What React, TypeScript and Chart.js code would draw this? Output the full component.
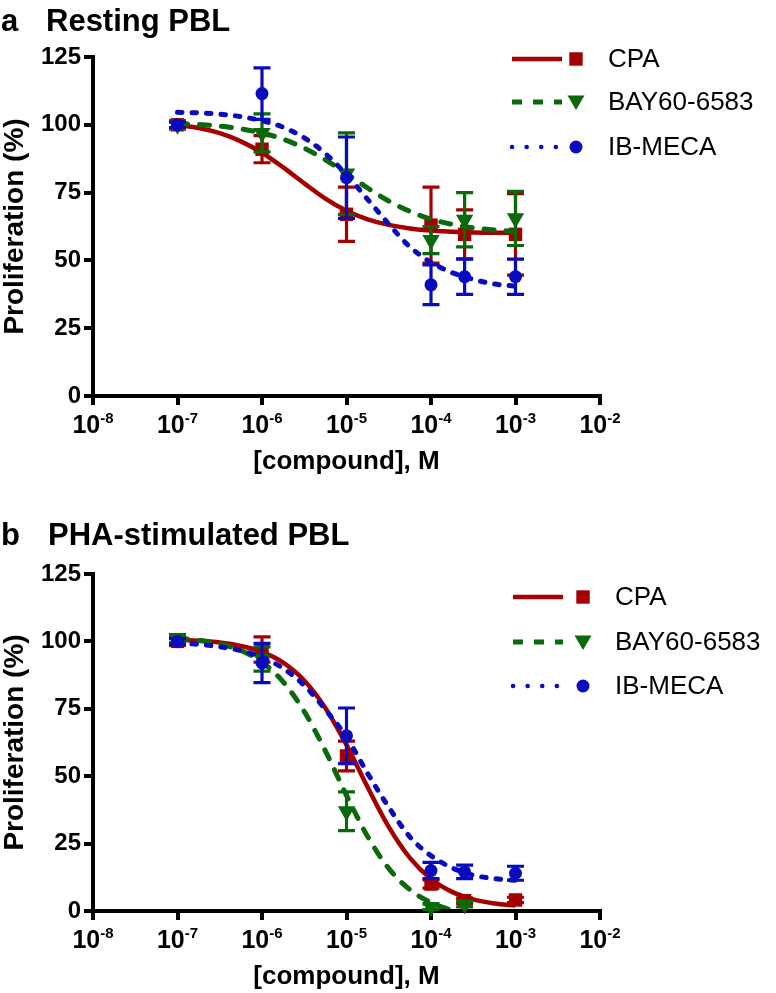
import React, { useEffect, useRef } from 'react';
import { Chart, registerables } from 'chart.js';
Chart.register(...registerables);

const FONT = '"Liberation Sans", Arial, Helvetica, sans-serif';

// ---- axes / labels ----
const xTickExponents = [-8, -7, -6, -5, -4, -3, -2];
const yTickValues = [0, 25, 50, 75, 100, 125];
const xAxisTitle = '[compound], M';
const yAxisTitle = 'Proliferation (%)';
const seriesNames = ['CPA', 'BAY60-6583', 'IB-MECA'];

// ---- concentrations ----
const doses = [1e-7, 1e-6, 1e-5, 1e-4, 2.5e-4, 1e-3];
const fitDoses = [
  1e-7, 1.78e-7, 3.16e-7, 5.62e-7, 1e-6, 1.78e-6, 3.16e-6, 5.62e-6, 1e-5,
  1.78e-5, 3.16e-5, 5.62e-5, 1e-4, 1.78e-4, 3.16e-4, 5.62e-4, 1e-3,
];

// ---- panel a: Resting PBL ----
const restingCPA = [100, 91, 67, 63, 59.6, 59.6];
const restingCPAErr = [1.5, 5, 10, 14, 9, 15];
const restingBAY = [100, 97, 82, 57.5, 65, 65.5];
const restingBAYErr = [1.5, 7, 15, 5, 10, 10];
const restingIB = [100, 111.5, 80.5, 41, 44, 44];
const restingIBErr = [1, 9.5, 15, 7.3, 6.5, 6.5];
const restingCPAFit = [99.9, 98.8, 96.9, 93.9, 89.7, 84.3, 78.4, 72.8, 68.3, 65.1, 63.1, 61.8, 61.0, 60.6, 60.3, 60.2, 60.1];
const restingBAYFit = [100.5, 100.1, 99.5, 98.5, 97.0, 94.7, 91.4, 87.1, 82.0, 76.7, 71.9, 68.1, 65.2, 63.3, 62.0, 61.2, 60.7];
const restingIBFit = [104.6, 104.4, 103.9, 103.0, 101.5, 99.1, 95.2, 89.4, 81.6, 72.5, 63.4, 55.0, 49.3, 45.5, 43.0, 41.3, 40.5];

// ---- panel b: PHA-stimulated PBL ----
const phaCPA = [100, 97, 57.5, 10, 3.8, 4.1];
const phaCPAErr = [1.5, 4.7, 5.5, 1.5, 1, 1];
const phaBAY = [101, 93.5, 37, 1.5, 2.5, null];
const phaBAYErr = [1.5, 4.5, 7.2, 1, 1, null];
const phaIB = [100, 92, 65, 15, 14.5, 14];
const phaIBErr = [1, 7.3, 10.3, 3, 2.5, 2.6];
const phaCPAFit = [100.6, 100.2, 99.6, 98.3, 96.1, 92.1, 85.5, 75.3, 61.6, 45.9, 31.2, 19.7, 11.9, 7.1, 4.3, 2.8, 2.0];
const phaBAYFit = [101.2, 100.4, 99.1, 96.6, 92.3, 85.0, 74.0, 59.4, 42.9, 27.6, 15.8, 7.9, 3.1, 0.3, -1.2, -2.1, -2.5];
const phaIBFit = [99.4, 98.9, 98.0, 96.6, 94.1, 90.0, 83.7, 74.7, 64.5, 51.0, 38.5, 27.5, 20.5, 16.0, 13.3, 12.0, 11.4];

// ---- styles ----
const seriesStyles = [
  { color: '#A50000', width: 4.5, dash: [] as number[], cap: 'butt', pointStyle: 'rect', radius: 9.5, rotation: 0,
    legendDash: [] as number[], legendCap: 'butt', legendWidth: 4.5 },
  { color: '#0A690A', width: 5, dash: [10, 12], cap: 'round', pointStyle: 'triangle', radius: 10, rotation: 180,
    legendDash: [10, 11], legendCap: 'butt', legendWidth: 5 },
  { color: '#0A0ABE', width: 5, dash: [4.5, 10], cap: 'round', pointStyle: 'circle', radius: 6.5, rotation: 0,
    legendDash: [0.1, 14.5], legendCap: 'round', legendWidth: 4.5 },
];

type PanelCfg = {
  top: number; height: number; padTop: number; xAxisHeight: number;
  letter: string; title: string; titleBaseline: number; titleX: number;
  legendY: number[]; legendLine: [number, number]; legendMarkerX: number; legendTextX: number;
  points: (number | null)[][]; errors: (number | null)[][]; fits: number[][];
};

const panelA: PanelCfg = {
  top: 0, height: 480, padTop: 57, xAxisHeight: 84,
  letter: 'a', title: 'Resting PBL', titleBaseline: 31, titleX: 46,
  legendY: [59, 102, 147], legendLine: [512, 562], legendMarkerX: 576, legendTextX: 608,
  points: [restingCPA, restingBAY, restingIB],
  errors: [restingCPAErr, restingBAYErr, restingIBErr],
  fits: [restingCPAFit, restingBAYFit, restingIBFit],
};

const panelB: PanelCfg = {
  top: 480, height: 513, padTop: 94, xAxisHeight: 82,
  letter: 'b', title: 'PHA-stimulated PBL', titleBaseline: 65, titleX: 48,
  legendY: [117, 162, 206], legendLine: [513, 563], legendMarkerX: 583, legendTextX: 615,
  points: [phaCPA, phaBAY, phaIB],
  errors: [phaCPAErr, phaBAYErr, phaIBErr],
  fits: [phaCPAFit, phaBAYFit, phaIBFit],
};

function drawMarker(ctx: CanvasRenderingContext2D, style: string, x: number, y: number, color: string) {
  ctx.save();
  ctx.fillStyle = color;
  ctx.beginPath();
  if (style === 'rect') {
    ctx.rect(x - 6.7, y - 6.7, 13.4, 13.4);
  } else if (style === 'triangle') {
    ctx.moveTo(x - 8.5, y - 6.5);
    ctx.lineTo(x + 8.5, y - 6.5);
    ctx.lineTo(x, y + 8);
    ctx.closePath();
  } else {
    ctx.arc(x, y, 6.5, 0, Math.PI * 2);
  }
  ctx.fill();
  ctx.restore();
}

function makePlugin(cfg: PanelCfg) {
  return {
    id: 'panelDecor',
    beforeDatasetDraw(chart: any, args: any) {
      const ds = chart.data.datasets[args.index];
      if (!ds.errors) return;
      const ctx = chart.ctx as CanvasRenderingContext2D;
      const xs = chart.scales.x, ys = chart.scales.y;
      ctx.save();
      ctx.strokeStyle = ds.borderColor;
      ctx.lineWidth = 3.2;
      ctx.lineCap = 'butt';
      ds.data.forEach((p: any, i: number) => {
        const e = ds.errors[i];
        if (p.y == null || e == null) return;
        const px = xs.getPixelForValue(p.x);
        const t = ys.getPixelForValue(p.y + e);
        const b = ys.getPixelForValue(p.y - e);
        ctx.beginPath();
        ctx.moveTo(px, t); ctx.lineTo(px, b);
        ctx.moveTo(px - 8.5, t); ctx.lineTo(px + 8.5, t);
        ctx.moveTo(px - 8.5, b); ctx.lineTo(px + 8.5, b);
        ctx.stroke();
      });
      ctx.restore();
    },
    afterDraw(chart: any) {
      const ctx = chart.ctx as CanvasRenderingContext2D;
      const xs = chart.scales.x;
      const area = chart.chartArea;
      ctx.save();
      ctx.fillStyle = '#000';
      // panel title
      ctx.textBaseline = 'alphabetic';
      ctx.textAlign = 'left';
      ctx.font = `bold 31px ${FONT}`;
      ctx.fillText(cfg.letter, 1, cfg.titleBaseline);
      ctx.fillText(cfg.title, cfg.titleX, cfg.titleBaseline);
      // x tick labels with superscripts
      xTickExponents.forEach((e) => {
        const px = xs.getPixelForValue(Math.pow(10, e));
        ctx.font = `bold 25px ${FONT}`;
        const w1 = ctx.measureText('10').width;
        ctx.font = `bold 15px ${FONT}`;
        const sup = String(e);
        const w2 = ctx.measureText(sup).width;
        const x0 = px - (w1 + w2) / 2;
        ctx.font = `bold 25px ${FONT}`;
        ctx.fillText('10', x0, area.bottom + 37);
        ctx.font = `bold 15px ${FONT}`;
        ctx.fillText(sup, x0 + w1, area.bottom + 27);
      });
      // x title
      ctx.font = `bold 26px ${FONT}`;
      ctx.textAlign = 'center';
      ctx.textBaseline = 'middle';
      ctx.fillText(xAxisTitle, (area.left + area.right) / 2, area.bottom + 66);
      // y title
      ctx.save();
      ctx.font = `bold 28px ${FONT}`;
      ctx.translate(15, (area.top + area.bottom) / 2);
      ctx.rotate(-Math.PI / 2);
      ctx.fillText(yAxisTitle, 0, 0);
      ctx.restore();
      // legend
      seriesNames.forEach((name, i) => {
        const st = seriesStyles[i];
        const y = cfg.legendY[i];
        ctx.save();
        ctx.strokeStyle = st.color;
        ctx.lineWidth = st.legendWidth;
        ctx.lineCap = st.legendCap as CanvasLineCap;
        ctx.setLineDash(st.legendDash);
        ctx.beginPath();
        ctx.moveTo(cfg.legendLine[0], y);
        ctx.lineTo(cfg.legendLine[1], y);
        ctx.stroke();
        ctx.restore();
        drawMarker(ctx, st.pointStyle, cfg.legendMarkerX, y, st.color);
        ctx.font = `26px ${FONT}`;
        ctx.textAlign = 'left';
        ctx.textBaseline = 'middle';
        ctx.fillStyle = '#000';
        ctx.fillText(name, cfg.legendTextX, y + 1);
      });
      ctx.restore();
    },
  };
}

function Panel({ cfg }: { cfg: PanelCfg }) {
  const ref = useRef<HTMLCanvasElement>(null);
  useEffect(() => {
    const datasets: any[] = [];
    seriesNames.forEach((name, i) => {
      const st = seriesStyles[i];
      const orderBase = (2 - i) * 2;
      datasets.push({
        label: name + ' fit',
        data: fitDoses.map((x, k) => ({ x, y: cfg.fits[i][k] })),
        borderColor: st.color,
        borderWidth: st.width,
        borderDash: st.dash,
        borderCapStyle: st.cap,
        pointRadius: 0,
        fill: false,
        cubicInterpolationMode: 'monotone',
        clip: { left: 6, right: 6, top: 6, bottom: -2 },
        order: orderBase + 1,
      });
      datasets.push({
        label: name,
        data: doses.map((x, k) => ({ x, y: cfg.points[i][k] })),
        errors: cfg.errors[i],
        showLine: false,
        borderColor: st.color,
        backgroundColor: st.color,
        pointStyle: st.pointStyle,
        pointRadius: st.radius,
        pointRotation: st.rotation,
        pointBorderWidth: 0,
        clip: false,
        order: orderBase,
      });
    });
    const chart = new Chart(ref.current!, {
      type: 'line',
      data: { datasets },
      plugins: [makePlugin(cfg) as any],
      options: {
        responsive: false,
        animation: false,
        events: [],
        devicePixelRatio: 1,
        layout: { padding: { left: 0, right: 176, top: cfg.padTop, bottom: 0 } },
        plugins: { legend: { display: false }, tooltip: { enabled: false }, title: { display: false } },
        scales: {
          x: {
            type: 'logarithmic',
            min: 1e-8,
            max: 1e-2,
            afterBuildTicks: (scale: any) => {
              scale.ticks = xTickExponents.map((e) => ({ value: Math.pow(10, e) }));
            },
            afterFit: (scale: any) => { scale.height = cfg.xAxisHeight; },
            ticks: { callback: () => '', autoSkip: false, maxRotation: 0 },
            grid: { drawOnChartArea: false, drawTicks: true, tickLength: 9, tickWidth: 4, tickColor: '#000', color: '#000', lineWidth: 4 },
            border: { display: true, color: '#000', width: 4 },
          },
          y: {
            type: 'linear',
            min: 0,
            max: 125,
            afterBuildTicks: (scale: any) => {
              scale.ticks = yTickValues.map((v) => ({ value: v }));
            },
            afterFit: (scale: any) => { scale.width = 93; },
            ticks: { color: '#000', font: { family: FONT, size: 24, weight: 'bold' }, padding: 3, autoSkip: false },
            grid: { drawOnChartArea: false, drawTicks: true, tickLength: 9, tickWidth: 4, tickColor: '#000', color: '#000', lineWidth: 4 },
            border: { display: true, color: '#000', width: 4 },
          },
        },
      } as any,
    });
    return () => chart.destroy();
  }, [cfg]);
  return (
    <canvas
      ref={ref}
      width={776}
      height={cfg.height}
      style={{ position: 'absolute', left: 0, top: cfg.top, width: 776, height: cfg.height, display: 'block' }}
    />
  );
}

export default function App() {
  return (
    <div style={{ position: 'absolute', left: 0, top: 0, width: 776, height: 993, background: '#fff' }}>
      <Panel cfg={panelA} />
      <Panel cfg={panelB} />
    </div>
  );
}
